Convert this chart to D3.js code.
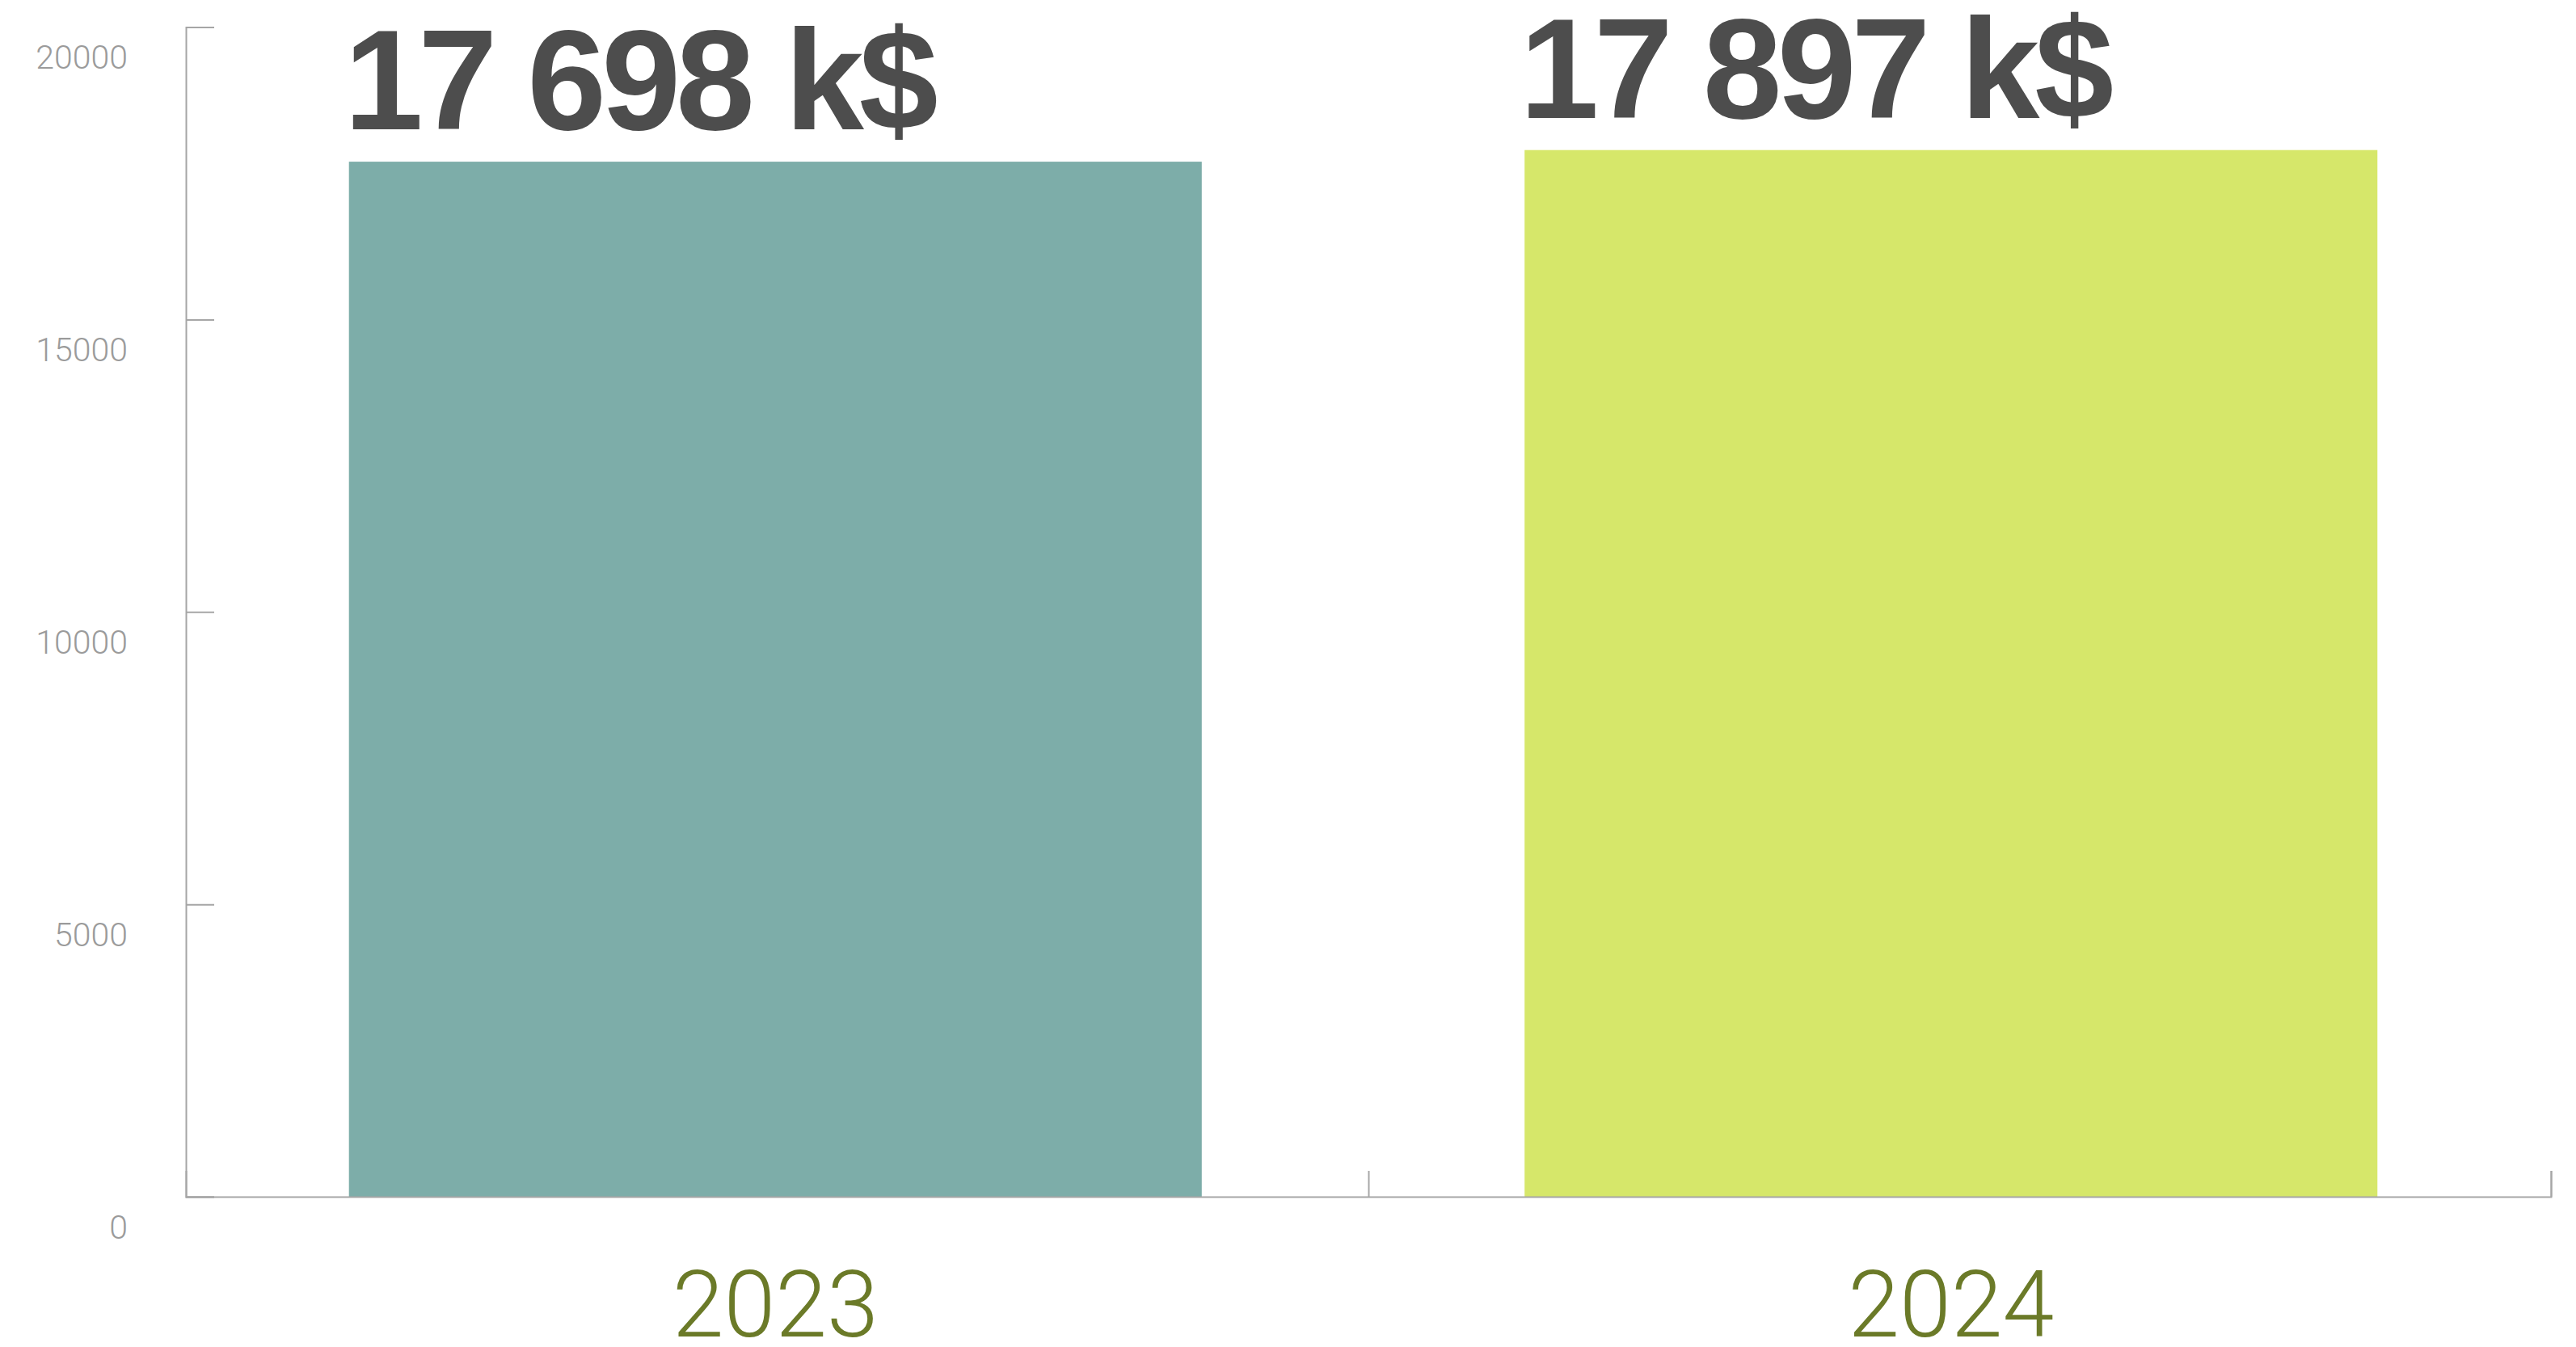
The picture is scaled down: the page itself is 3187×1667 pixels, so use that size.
<!DOCTYPE html>
<html>
<head>
<meta charset="utf-8">
<script src="https://cdn.jsdelivr.net/npm/d3@7"></script>
<style>
  body { margin: 0; background: #fff; }
  svg { display: block; }
</style>
</head>
<body>
<div id="chart"></div>
<script>
// data
var years = ["2023", "2024"];
var values = [17698, 17897];
var valueLabels = ["17 698 k$", "17 897 k$"];
var barColors = ["#7dada9", "#d6e76a"];
var yTicks = [0, 5000, 10000, 15000, 20000];

var width = 3187, height = 1667;
var margin = { left: 230, right: 3156, bottom: 1481, top: 33.5 };

var svg = d3.select("#chart").append("svg")
  .attr("width", width)
  .attr("height", height);

var y = d3.scaleLinear().domain([0, 20000]).range([margin.bottom, margin.top]);

// bars sit slightly inside the frame, labels centred on them
var x = d3.scaleBand().domain(years).range([232, 3141]).paddingInner(0.2746).paddingOuter(0.1373);

// frame ticks between categories
var xFrame = d3.scaleLinear().domain([0, years.length]).range([margin.left, margin.right]);

// y axis
var yAxis = svg.append("g")
  .attr("transform", `translate(${margin.left},0)`)
  .call(d3.axisLeft(y).tickValues(yTicks).tickSize(-35).tickPadding(72).tickFormat(d3.format("d")));
yAxis.select(".domain").attr("stroke", "#a6a6a6").attr("stroke-width", 2);
yAxis.selectAll(".tick line").attr("stroke", "#a6a6a6").attr("stroke-width", 2);
yAxis.selectAll(".tick text")
  .attr("dy", "1.25em")
  .attr("fill", "#9b9b9b")
  .style("font-family", "Roboto, 'Liberation Sans', sans-serif")
  .style("font-weight", 300)
  .style("font-size", "41px");

// bars
svg.append("g").selectAll("rect")
  .data(values)
  .join("rect")
  .attr("x", (d, i) => x(years[i]))
  .attr("y", d => y(d))
  .attr("width", x.bandwidth())
  .attr("height", d => y(0) - y(d))
  .attr("fill", (d, i) => barColors[i]);

// x axis frame line and ticks
var xAxis = svg.append("g")
  .attr("transform", `translate(0,${margin.bottom})`)
  .call(d3.axisBottom(xFrame).tickValues(d3.range(1, years.length + 1)).tickSize(-32).tickFormat(""));
xAxis.select(".domain").attr("stroke", "#a6a6a6").attr("stroke-width", 2);
xAxis.selectAll(".tick line").attr("stroke", "#a6a6a6").attr("stroke-width", 2);

// year labels
svg.append("g")
  .attr("transform", `translate(0,${margin.bottom})`)
  .call(d3.axisBottom(x).tickSize(0).tickPadding(0))
  .call(g => g.select(".domain").remove())
  .selectAll("text")
  .attr("y", 173)
  .attr("dy", 0)
  .attr("fill", "#6b7a28")
  .style("font-family", "Roboto, 'Liberation Sans', sans-serif")
  .style("font-weight", 300)
  .style("font-size", "115px");

// value labels above bars
svg.append("g").selectAll("text")
  .data(values)
  .join("text")
  .attr("x", (d, i) => x(years[i]) - 6)
  .attr("y", d => y(d) - 40)
  .attr("fill", "#4d4d4d")
  .style("font-family", "'Liberation Sans', Arial, sans-serif")
  .style("font-weight", 700)
  .style("font-size", "176px")
  .style("letter-spacing", "-6px")
  .text((d, i) => valueLabels[i]);
</script>
</body>
</html>
